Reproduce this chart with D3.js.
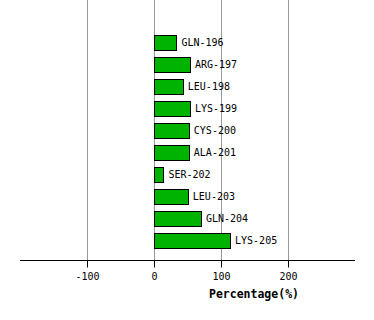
<!DOCTYPE html>
<html>
<head>
<meta charset="utf-8">
<script src="https://cdn.jsdelivr.net/npm/d3@7"></script>
<style>
    body { margin: 0; background: #fff; }
    text { font-family: "DejaVu Sans Mono", monospace; font-size: 10px; fill: #000; }
    .grid line { stroke: #999; stroke-width: 1; }
    .bar { fill: #00b300; stroke: #000; stroke-width: 1; }
    .axis-title { font-weight: bold; font-size: 11.5px; }
</style>
</head>
<body>
<svg id="chart" width="374" height="320"></svg>
<script>
var residues = ["GLN-196", "ARG-197", "LEU-198", "LYS-199", "CYS-200",
                "ALA-201", "SER-202", "LEU-203", "GLN-204", "LYS-205"];
var percentages = [33.5, 53.7, 43, 53.7, 52, 52, 14, 50.5, 70, 113.5];
var xTicks = [-100, 0, 100, 200];

var svg = d3.select("#chart")
    , left = 20
    , right = 355
    , top = 20
    , bottom = 260
    ;

var x = d3.scaleLinear().domain([-200, 300]).range([left, right]);
var y = d3.scaleBand()
    .domain(residues)
    .range([31.5, 251.5])
    .paddingInner(0.32)
    .paddingOuter(0.16);

// vertical grid
svg.append("g")
    .attr("class", "grid")
    .selectAll("line")
    .data(xTicks)
    .enter().append("line")
    .attr("x1", function(d) { return Math.round(x(d)) + 0.5; })
    .attr("x2", function(d) { return Math.round(x(d)) + 0.5; })
    .attr("y1", top)
    .attr("y2", bottom);

// bars
svg.append("g")
    .selectAll("rect")
    .data(percentages)
    .enter().append("rect")
    .attr("class", "bar")
    .attr("x", Math.round(x(0)) + 0.5)
    .attr("y", function(d, i) { return Math.round(y(residues[i])) + 0.5; })
    .attr("width", function(d) { return Math.round(x(d) - x(0)); })
    .attr("height", Math.round(y.bandwidth()));

// labels
svg.append("g")
    .selectAll("text")
    .data(percentages)
    .enter().append("text")
    .attr("x", function(d) { return x(d) + 5; })
    .attr("y", function(d, i) { return y(residues[i]) + y.bandwidth() / 2; })
    .attr("dy", "0.35em")
    .text(function(d, i) { return residues[i]; });

// x axis
var axis = d3.axisBottom(x)
    .tickValues(xTicks)
    .tickFormat(function(d) { return String(d); })
    .tickSize(7)
    .tickPadding(5)
    .tickSizeOuter(0);

var ag = svg.append("g")
    .attr("transform", "translate(0," + bottom + ".5)")
    .call(axis);

ag.select(".domain").attr("d", "M" + left + ",0H" + right).attr("stroke", "#000");
ag.selectAll(".tick line").attr("stroke", "#000");
ag.selectAll(".tick text")
    .attr("font-family", "DejaVu Sans Mono, monospace")
    .attr("font-size", 10)
    .attr("fill", "#000");

svg.append("text")
    .attr("class", "axis-title")
    .attr("x", 254)
    .attr("y", 298)
    .attr("text-anchor", "middle")
    .text("Percentage(%)");
</script>
</body>
</html>
